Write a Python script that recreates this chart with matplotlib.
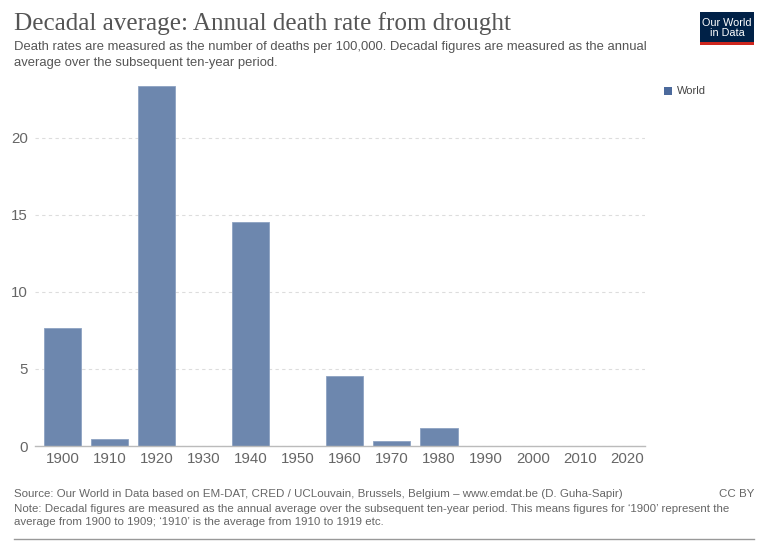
import matplotlib.pyplot as plt
from matplotlib.patches import Rectangle

decades = ["1900", "1910", "1920", "1930", "1940", "1950", "1960",
           "1970", "1980", "1990", "2000", "2010", "2020"]
death_rate = [7.65, 0.45, 23.4, 0.0, 14.55, 0.0, 4.55,
              0.3, 1.17, 0.01, 0.01, 0.03, 0.03]
y_ticks = [0, 5, 10, 15, 20]

bar_color = "#6d87ae"
text_gray = "#666666"

fig = plt.figure(figsize=(7.68, 5.41), dpi=100)
ax = fig.add_axes([0.0456, 0.1756, 0.7944, 0.669])

x = list(range(len(decades)))
ax.bar(x, death_rate, width=0.79, color=bar_color, edgecolor="#8da2c2",
       linewidth=0.6, zorder=3)

ax.set_xlim(-0.58, 12.38)
ax.set_ylim(0, 23.5)
ax.set_xticks(x)
ax.set_xticklabels(decades, fontsize=10.8, color=text_gray, family="Liberation Sans")
ax.set_yticks(y_ticks)
ax.set_yticklabels([str(t) for t in y_ticks], fontsize=10.8, color=text_gray,
                   family="Liberation Sans")
ax.tick_params(axis="both", length=0, pad=4)
ax.tick_params(axis="y", pad=5)
ax.yaxis.grid(True, linestyle=(0, (3, 3)), color="#dddddd", linewidth=0.8, zorder=0)
for s in ["top", "right", "left"]:
    ax.spines[s].set_visible(False)
ax.spines["bottom"].set_color("#bbbbbb")
ax.spines["bottom"].set_linewidth(1)
ax.spines["bottom"].set_zorder(4)

# title block
fig.text(14 / 768, 1 - 24 / 541, "Decadal average: Annual death rate from drought",
         fontsize=18.1, family="Liberation Serif", color="#555555", va="center")
fig.text(14 / 768, 1 - 47 / 541,
         "Death rates are measured as the number of deaths per 100,000. Decadal figures are measured as the annual",
         fontsize=9.4, family="Liberation Sans", color="#555555", va="center")
fig.text(14 / 768, 1 - 63 / 541, "average over the subsequent ten-year period.",
         fontsize=9.4, family="Liberation Sans", color="#555555", va="center")

# logo
fig.patches.append(Rectangle((700 / 768, 1 - 45 / 541), 54 / 768, 33 / 541,
                             transform=fig.transFigure, facecolor="#002147",
                             edgecolor="none"))
fig.patches.append(Rectangle((700 / 768, 1 - 45 / 541), 54 / 768, 3 / 541,
                             transform=fig.transFigure, facecolor="#ce261e",
                             edgecolor="none"))
fig.text(727 / 768, 1 - 28 / 541, "Our World\nin Data", fontsize=7.8,
         family="Liberation Sans", color="white", ha="center", va="center",
         linespacing=1.0)

# legend
fig.patches.append(Rectangle((664 / 768, 1 - 95 / 541), 8 / 768, 8 / 541,
                             transform=fig.transFigure, facecolor="#4c6a9c",
                             edgecolor="none"))
fig.text(677 / 768, 1 - 91 / 541, "World", fontsize=8, family="Liberation Sans",
         color="#444444", va="center")

# footer
foot = 8.25
fig.text(14 / 768, 1 - 494 / 541,
         "Source: Our World in Data based on EM-DAT, CRED / UCLouvain, Brussels, Belgium – www.emdat.be (D. Guha-Sapir)",
         fontsize=foot, family="Liberation Sans", color=text_gray, va="center")
fig.text(754 / 768, 1 - 494 / 541, "CC BY", fontsize=foot, family="Liberation Sans",
         color=text_gray, va="center", ha="right")
fig.text(14 / 768, 1 - 509 / 541,
         "Note: Decadal figures are measured as the annual average over the subsequent ten-year period. This means figures for ‘1900’ represent the",
         fontsize=foot, family="Liberation Sans", color=text_gray, va="center")
fig.text(14 / 768, 1 - 522 / 541,
         "average from 1900 to 1909; ‘1910’ is the average from 1910 to 1919 etc.",
         fontsize=foot, family="Liberation Sans", color=text_gray, va="center")
fig.add_artist(plt.Line2D([14 / 768, 754 / 768], [1 - 539 / 541] * 2,
                          transform=fig.transFigure, color="#999999", linewidth=1))

fig.savefig("out.png", dpi=100)
